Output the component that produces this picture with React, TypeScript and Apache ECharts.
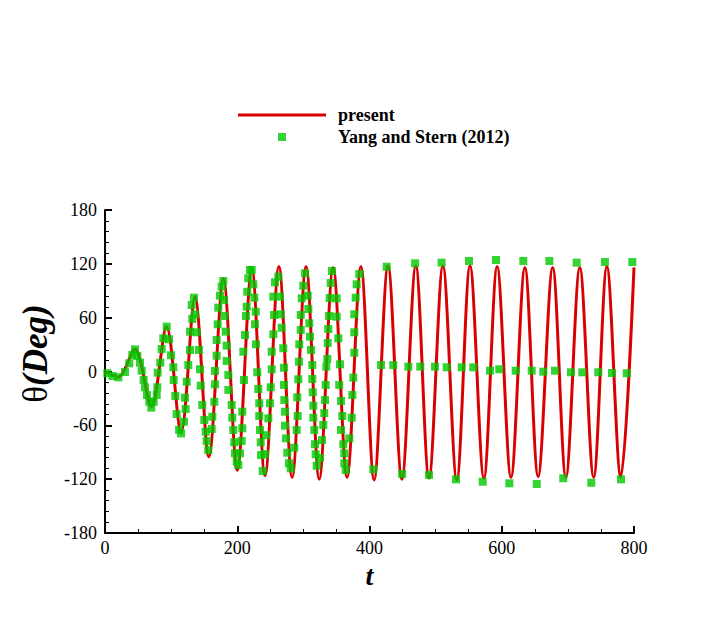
import React, { useEffect, useRef } from "react";
import * as echarts from "echarts";

const SERIF = "Liberation Serif";

// present: roll angle turning points (t, deg)
const presentT = [0, 20, 45, 70, 93, 115, 136, 157, 179, 200, 222, 242, 263, 283, 304, 324, 345, 366, 387, 407, 428, 449, 470, 490, 511, 532, 552, 573, 593, 614, 635, 655, 677, 697, 718, 739, 759, 780, 800];
const presentDeg = [0, -6, 25, -39, 50, -68, 83, -95, 103, -110, 115, -116, 117, -118, 117, -120, 116, -118, 117, -121, 118, -120, 118, -119, 118, -121, 118, -119, 117, -118, 116, -117, 116, -118, 116, -118, 117, -118, 116];

// Yang and Stern (2012): onset of the roll motion
const yangOnset: [number, number][] = [
  [3.5, -2], [11.6, -5], [20.1, -6.5], [30.2, -0.6], [36.7, 9.1], [41.3, 18.4], [45.4, 24.7], [48.8, 17.3],
  [52.9, 9.8], [55.5, 0.9], [58.5, -9.5], [60.5, -17.6], [63.5, -26.2], [67, -33.7], [70, -40.3], [73.6, -33.7],
  [78.2, -26.2], [79.1, -17.6], [79.7, -1.3], [83.6, 9.8], [85.7, 25.1], [88.2, 37], [93.3, 50], [96.8, 35.9],
  [99.8, 18.1], [103.3, 4.7], [103.9, -9.5], [106.3, -27.3], [108.4, -47.4], [112, -65], [115, -69],
];

// Yang and Stern (2012): growing oscillation
const yangGrowth: [number, number][] = [
  [119.5, -56], [121, -29.2], [122, -41.8], [123.6, -11.4], [126, 7.2], [128.5, 24], [128.5, 44.4], [131.1, 74.1],
  [132, 58.5], [134.6, 82.3], [136.1, 63.8], [138.7, 43.7], [142.2, 24], [143.7, 2.5], [144.7, -15.8], [147.1, -37.3],
  [150.2, -54.1], [152.3, -67.1], [153.8, -77.5], [156.2, -87.5], [161.4, -64.1], [162.3, -50.4], [165.3, -33.7],
  [166.4, -14.3], [166.4, 0.6], [168.9, 17.6], [168.9, 35.1], [170.4, 52.6], [171.3, 71.1], [173.9, 84.5],
  [176.5, 94.5], [178.9, 100.9], [180, 79.7], [180.4, 61.9], [182.5, 44.4], [184, 28.8], [184, 11.7], [186.5, -3.9],
  [186.5, -20.6], [191.6, -37.3], [192.5, -51.5], [194, -65.2], [195.5, -78.9], [196.6, -91.2], [199.2, -100.5],
  [201.6, -104.2], [204.2, -91.2], [206.7, -77.5], [207.6, -63.3], [207.6, -44.8], [209.2, 22.1], [210.2, -9.5],
  [211.7, 40.7], [213.2, 61.9], [214.3, 72.2], [215.2, 88.9], [216.7, 103.9], [219.3, 113.1],
];

// Yang and Stern (2012): saturated oscillation, densely sampled
const yangDense: [number, number][] = [
  [221.9, 113.1], [224.3, 97.2], [225.8, 82.3], [227.9, 66.7], [226.8, 52.6], [228.4, 30.3], [230.3, -0.9],
  [231.8, -19.5], [233.3, -35.4], [233.3, -49.6], [234.4, -65.2], [235.5, -78.9], [235.9, -93.1], [238.5, -110.9],
  [242, -92], [243.5, -71], [247, -52.2], [249.5, -35.4], [250.6, -17.6], [252.1, 2.5], [252.1, 22.1], [254.5, 41.5],
  [255.6, 63], [254.5, 83.4], [257.1, 99.4], [262.1, 105.7],
  [264.7, 83.4], [265.7, 63.8], [267.2, 48.8], [269.6, 25.9], [270.7, 4.2], [270.7, -15], [271.2, -31.8],
  [272.2, -44.8], [272.2, -60.4], [273.7, -74.5], [275.7, -90.5], [278.3, -102.3], [280.8, -107.9],
  [286.3, -84.9], [289.9, -65.2], [291.4, -49.6], [290.8, -28.8], [292.3, -8.7], [293.4, 10.9], [293.8, 30.3],
  [296, 46.3], [296, 63], [297.5, 81.6], [299.9, 95.6], [302.5, 109.5],
  [306.5, 84.5], [307.5, 69.7], [309, 53.7], [310, 38.8], [311.5, 24], [313.5, 7.2], [313.5, -8.4], [314.1, -23.2],
  [315, -38.1], [315, -51.5], [316.5, -65.2], [317.6, -81.1], [318.6, -92.3], [320.2, -105],
  [325.1, -96.4], [328.2, -76.4], [330.1, -59.6], [331.6, -46.3], [332.7, -31.8], [333.8, -15], [334.7, 5.4],
  [336.2, 13.9], [336.8, 31.8], [337.7, 47.4], [338.8, 61.9], [339.8, 81.9], [341.3, 98.6], [343.3, 112],
  [350.4, 81.6], [350.4, 61.1], [352.8, 37], [355.4, 8], [354.3, -15], [356.9, -32.9], [358.9, -49.6],
  [356.9, -65.2], [360.4, -81.1], [361.9, -91.2], [361.9, -102.3], [364, -109.8],
  [369.5, -74.5], [373.1, -51.5], [374, -26.2], [375.5, -6.9], [377, 21], [377, 43.7], [377, 63.8], [379.1, 82.3],
  [380.6, 97.2], [384.6, 108.7],
];

// Yang and Stern (2012): sparse samples after t = 400
const yangCrests: [number, number][] = [
  [426, 116.8], [469, 120.6], [509, 121.3], [550.5, 123.2], [591.3, 124.3], [632.6, 123.2], [672, 123.2],
  [713.3, 121.3], [756, 122], [797.4, 122],
];
const yangTroughs: [number, number][] = [
  [405.7, -109], [449.4, -114.2], [490, -115.4], [530.8, -120.2], [571.2, -122.8], [611.5, -124.6],
  [652.9, -125.4], [693, -119], [735.4, -124], [780.3, -120.2],
];
const yangNearZero: [number, number][] = [
  [417.4, 7.2], [436, 7.2], [458.7, 5.4], [476.8, 5.4], [499, 5.4], [516.7, 4.7], [539.4, 4.7], [557, 4.7],
  [582.2, 0.9], [596.3, 2.5], [621.1, 0.9], [645.3, 0.9], [662.8, -0.2], [680.5, 0.9], [704.7, -0.9],
  [721.8, -0.9], [746, -0.9], [766.7, -1.7], [789, -2],
];

const X_MIN = 0;
const X_MAX = 800;
const X_STEP = 200;
const Y_MIN = -180;
const Y_MAX = 180;
const Y_STEP = 60;

const RED = "#d80000";
const GREEN = "#00c800";

export default function App() {
  const ref = useRef<HTMLDivElement>(null);

  useEffect(() => {
    if (!ref.current) return;
    const chart = echarts.init(ref.current, null, { renderer: "svg" });

    const presentData = presentT.map((t, i) => [t, presentDeg[i]]);
    const yangData = [
      ...yangOnset,
      ...yangGrowth,
      ...yangDense,
      ...yangCrests,
      ...yangTroughs,
      ...yangNearZero,
    ];

    const tickLabel = { fontFamily: SERIF, fontSize: 18, color: "#000" };
    const axisLine = { show: true, onZero: false, lineStyle: { color: "#000", width: 2 } };
    const axisTick = { show: true, inside: true, length: 7, lineStyle: { color: "#000", width: 2 } };

    chart.setOption({
      animation: false,
      backgroundColor: "#fff",
      grid: { left: 105, right: 73, top: 210, bottom: 99, containLabel: false },
      legend: {
        orient: "vertical",
        left: 233,
        top: 101,
        itemWidth: 88,
        itemHeight: 8,
        itemGap: 4,
        symbolKeepAspect: true,
        textStyle: {
          fontFamily: SERIF,
          fontWeight: "bold",
          fontSize: 18,
          lineHeight: 18,
          color: "#000",
          padding: [0, 0, 0, 7],
        },
        data: [
          { name: "present", icon: "path://M0,0 L88,0 L88,3 L0,3 Z", itemStyle: { color: RED, borderWidth: 0 } },
          { name: "Yang and Stern (2012)", icon: "path://M0,0 L8,0 L8,8 L0,8 Z", itemStyle: { color: GREEN, borderWidth: 0 } },
        ],
      },
      xAxis: {
        type: "value",
        min: X_MIN,
        max: X_MAX,
        interval: X_STEP,
        splitLine: { show: false },
        axisLine,
        axisTick,
        minorTick: { show: true, splitNumber: 4, length: 4, lineStyle: { color: "#000", width: 1 } },
        axisLabel: { ...tickLabel, margin: 6 },
        name: "t",
        nameLocation: "middle",
        nameGap: 25,
        nameTextStyle: {
          fontFamily: SERIF,
          fontSize: 28,
          fontWeight: "bold",
          fontStyle: "italic",
          color: "#000",
        },
      },
      yAxis: {
        type: "value",
        min: Y_MIN,
        max: Y_MAX,
        interval: Y_STEP,
        splitLine: { show: false },
        axisLine,
        axisTick,
        minorTick: { show: true, splitNumber: 5, length: 4, lineStyle: { color: "#000", width: 1 } },
        axisLabel: { ...tickLabel, margin: 8 },
        name: "{th|θ}{d|(Deg)}",
        nameLocation: "middle",
        nameRotate: 90,
        nameGap: 46,
        nameTextStyle: {
          color: "#000",
          padding: [0, 0, 0, 36],
          rich: {
            th: { fontFamily: SERIF, fontSize: 35, color: "#000" },
            d: { fontFamily: SERIF, fontSize: 35, fontWeight: "bold", fontStyle: "italic", color: "#000" },
          },
        },
      },
      series: [
        {
          name: "present",
          type: "line",
          data: presentData,
          smooth: 0.33,
          symbol: "none",
          showSymbol: false,
          lineStyle: { color: RED, width: 3 },
          itemStyle: { color: RED },
          z: 2,
        },
        {
          name: "Yang and Stern (2012)",
          type: "scatter",
          data: yangData,
          symbol: "rect",
          symbolSize: 8,
          itemStyle: { color: GREEN },
          z: 3,
        },
      ],
    });

    return () => chart.dispose();
  }, []);

  return (
    <div
      ref={ref}
      style={{ position: "fixed", left: 0, top: 0, width: 707, height: 632, background: "#fff" }}
    />
  );
}
